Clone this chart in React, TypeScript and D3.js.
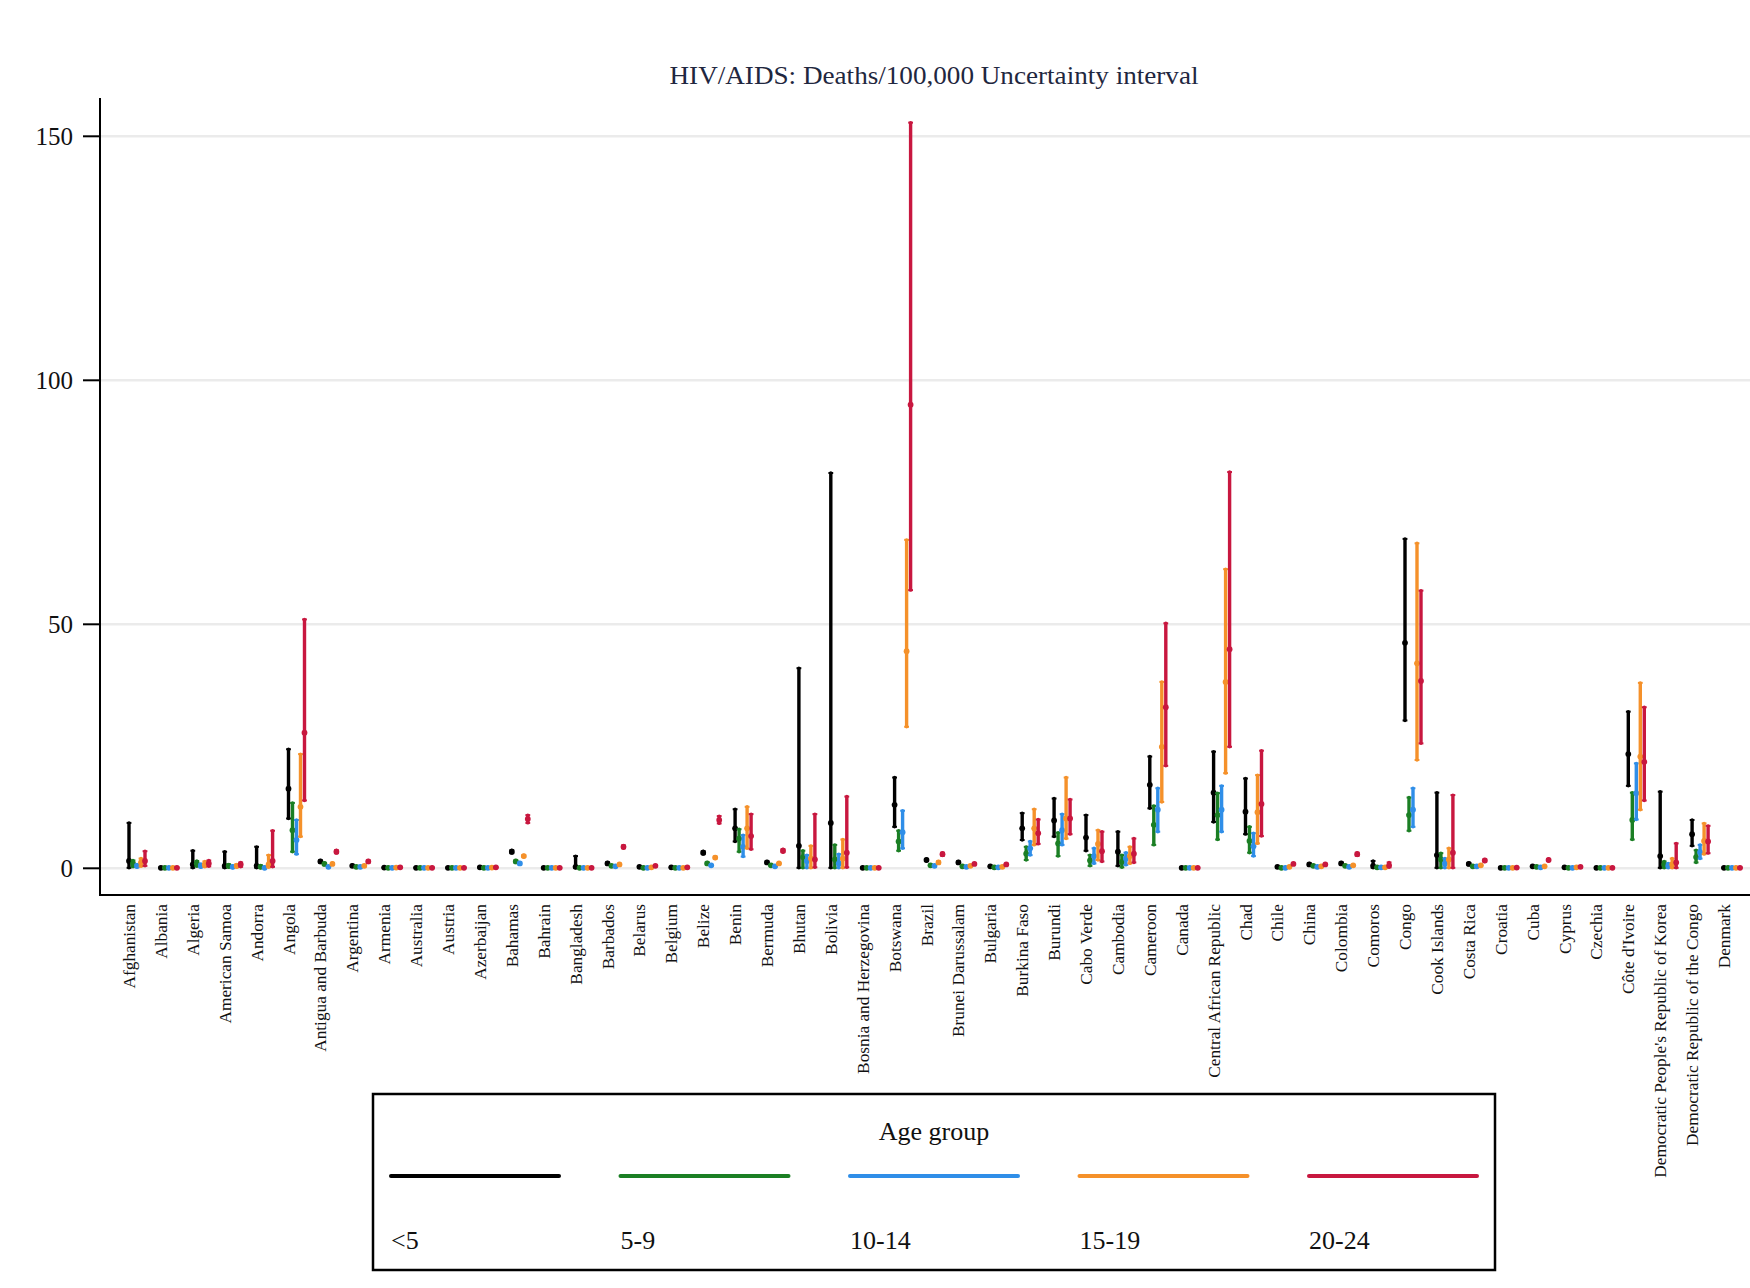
import React from "react";
import * as d3 from "d3";

const countries = [
  "Afghanistan", "Albania", "Algeria", "American Samoa", "Andorra", "Angola",
  "Antigua and Barbuda", "Argentina", "Armenia", "Australia", "Austria", "Azerbaijan",
  "Bahamas", "Bahrain", "Bangladesh", "Barbados", "Belarus", "Belgium", "Belize",
  "Benin", "Bermuda", "Bhutan", "Bolivia", "Bosnia and Herzegovina", "Botswana",
  "Brazil", "Brunei Darussalam", "Bulgaria", "Burkina Faso", "Burundi", "Cabo Verde",
  "Cambodia", "Cameroon", "Canada", "Central African Republic", "Chad", "Chile",
  "China", "Colombia", "Comoros", "Congo", "Cook Islands", "Costa Rica", "Croatia",
  "Cuba", "Cyprus", "Czechia", "Côte d'Ivoire",
  "Democratic People's Republic of Korea", "Democratic Republic of the Congo", "Denmark",
];

const ageGroups = ["<5", "5-9", "10-14", "15-19", "20-24"];
const groupColors = ["#000000", "#1b7f24", "#2f8ee8", "#f5912a", "#c8173f"];

// <5
const u5Est = [1.5, 0.1, 0.8, 0.5, 0.5, 16.3, 1.4, 0.5, 0.15, 0.1, 0.1, 0.2, 3.4, 0.1, 0.3, 1.0, 0.3, 0.2, 3.2, 8.2, 1.2, 4.6, 9.3, 0.1, 13.0, 1.7, 1.2, 0.4, 8.2, 9.8, 6.3, 3.4, 17.1, 0.1, 15.5, 11.6, 0.3, 0.8, 1.0, 0.5, 46.2, 2.7, 0.9, 0.1, 0.4, 0.2, 0.1, 23.4, 2.5, 7.0, 0.1];
const u5Lo = [0.1, 0.05, 0.1, 0.1, 0.1, 10.2, 1.2, 0.4, 0.1, 0.05, 0.05, 0.1, 3.1, 0.05, 0.1, 0.8, 0.2, 0.1, 2.9, 5.5, 1.0, 0.1, 0.1, 0.05, 8.5, 1.5, 1.0, 0.3, 5.8, 6.5, 3.6, 0.5, 12.3, 0.05, 9.5, 7.0, 0.2, 0.6, 0.8, 0.1, 30.3, 0.1, 0.7, 0.05, 0.3, 0.1, 0.05, 16.9, 0.1, 4.6, 0.05];
const u5Hi = [9.3, 0.2, 3.6, 3.4, 4.4, 24.4, 1.6, 0.7, 0.2, 0.2, 0.2, 0.3, 3.7, 0.2, 2.5, 1.2, 0.4, 0.3, 3.5, 12.1, 1.4, 41.0, 81.0, 0.2, 18.6, 1.9, 1.4, 0.5, 11.3, 14.3, 10.9, 7.5, 22.9, 0.2, 23.9, 18.4, 0.4, 1.0, 1.2, 1.5, 67.5, 15.5, 1.1, 0.2, 0.5, 0.3, 0.2, 32.1, 15.7, 9.9, 0.2];

// 5-9
const a5Est = [1.0, 0.1, 1.0, 0.5, 0.3, 7.8, 0.9, 0.3, 0.1, 0.1, 0.1, 0.1, 1.4, 0.1, 0.1, 0.5, 0.1, 0.1, 1.0, 6.1, 0.6, 2.3, 1.8, 0.1, 5.5, 0.6, 0.4, 0.2, 3.0, 5.1, 1.6, 1.3, 8.9, 0.1, 10.9, 5.6, 0.1, 0.5, 0.5, 0.2, 10.9, 1.8, 0.4, 0.1, 0.3, 0.1, 0.1, 9.9, 0.8, 2.3, 0.1];
const a5Lo = [0.3, 0.05, 0.4, 0.2, 0.1, 3.4, 0.7, 0.2, 0.05, 0.05, 0.05, 0.05, 1.2, 0.05, 0.05, 0.4, 0.05, 0.05, 0.8, 3.4, 0.5, 0.1, 0.1, 0.05, 3.6, 0.5, 0.3, 0.1, 1.7, 2.5, 0.5, 0.2, 4.8, 0.05, 5.9, 3.2, 0.05, 0.4, 0.4, 0.1, 7.7, 0.1, 0.3, 0.05, 0.2, 0.05, 0.05, 5.9, 0.1, 1.2, 0.05];
const a5Hi = [1.6, 0.2, 1.5, 0.8, 0.6, 13.4, 1.1, 0.4, 0.2, 0.2, 0.2, 0.2, 1.6, 0.2, 0.2, 0.6, 0.2, 0.2, 1.2, 8.0, 0.7, 3.6, 4.8, 0.2, 7.7, 0.7, 0.5, 0.3, 4.4, 7.3, 2.7, 2.7, 12.8, 0.2, 15.4, 8.5, 0.2, 0.6, 0.6, 0.3, 14.5, 3.1, 0.5, 0.2, 0.4, 0.2, 0.2, 15.5, 1.4, 3.7, 0.2];

// 10-14
const a10Est = [0.5, 0.1, 0.5, 0.3, 0.1, 5.8, 0.3, 0.3, 0.1, 0.1, 0.1, 0.1, 1.0, 0.1, 0.1, 0.4, 0.1, 0.1, 0.6, 4.4, 0.4, 1.5, 1.0, 0.1, 7.4, 0.5, 0.3, 0.2, 4.1, 7.8, 2.5, 2.0, 12.0, 0.1, 12.0, 4.5, 0.1, 0.3, 0.3, 0.2, 12.0, 1.0, 0.4, 0.1, 0.2, 0.1, 0.1, 15.4, 0.5, 3.3, 0.1];
const a10Lo = [0.2, 0.05, 0.2, 0.1, 0.05, 2.9, 0.2, 0.2, 0.05, 0.05, 0.05, 0.05, 0.8, 0.05, 0.05, 0.3, 0.05, 0.05, 0.5, 2.4, 0.3, 0.1, 0.1, 0.05, 4.1, 0.4, 0.2, 0.1, 2.7, 4.8, 1.0, 0.7, 7.5, 0.05, 7.5, 2.5, 0.05, 0.2, 0.2, 0.1, 8.5, 0.1, 0.3, 0.05, 0.1, 0.05, 0.05, 10.0, 0.1, 2.0, 0.05];
const a10Hi = [0.8, 0.2, 0.9, 0.5, 0.3, 9.9, 0.4, 0.4, 0.2, 0.2, 0.2, 0.2, 1.2, 0.2, 0.2, 0.5, 0.2, 0.2, 0.7, 6.8, 0.5, 2.7, 2.9, 0.2, 11.8, 0.6, 0.4, 0.3, 5.5, 11.1, 4.1, 3.2, 16.4, 0.2, 16.9, 7.2, 0.2, 0.4, 0.4, 0.3, 16.4, 2.0, 0.5, 0.2, 0.3, 0.2, 0.2, 21.5, 1.0, 4.8, 0.2];

// 15-19
const a15Est = [1.2, 0.1, 0.8, 0.5, 0.8, 12.6, 0.9, 0.5, 0.15, 0.1, 0.1, 0.15, 2.5, 0.1, 0.1, 0.8, 0.2, 0.1, 2.2, 8.2, 1.0, 2.0, 2.0, 0.1, 44.5, 1.2, 0.5, 0.3, 8.2, 10.2, 5.0, 2.5, 24.9, 0.1, 38.2, 11.5, 0.3, 0.4, 0.6, 0.2, 42.0, 1.8, 0.6, 0.1, 0.4, 0.2, 0.1, 22.9, 0.8, 5.6, 0.1];
const a15Lo = [0.4, 0.05, 0.3, 0.2, 0.2, 6.5, 0.8, 0.4, 0.1, 0.05, 0.05, 0.1, 2.3, 0.05, 0.05, 0.7, 0.1, 0.05, 2.0, 4.1, 0.9, 0.1, 0.1, 0.05, 29.0, 1.0, 0.4, 0.2, 4.8, 6.1, 1.7, 1.0, 13.6, 0.05, 19.5, 5.1, 0.2, 0.3, 0.5, 0.1, 22.2, 0.1, 0.5, 0.05, 0.3, 0.1, 0.05, 12.0, 0.1, 2.9, 0.05];
const a15Hi = [2.0, 0.2, 1.4, 0.8, 2.7, 23.4, 1.1, 0.6, 0.2, 0.2, 0.2, 0.2, 2.7, 0.2, 0.2, 0.9, 0.3, 0.2, 2.4, 12.6, 1.1, 4.6, 5.9, 0.2, 67.3, 1.4, 0.6, 0.4, 12.1, 18.6, 7.8, 4.4, 38.2, 0.2, 61.3, 19.1, 0.4, 0.5, 0.7, 0.3, 66.6, 4.1, 0.7, 0.2, 0.5, 0.3, 0.2, 38.0, 2.0, 9.2, 0.2];

// 20-24
const a20Est = [1.5, 0.1, 1.0, 0.8, 1.5, 27.8, 3.4, 1.4, 0.2, 0.1, 0.1, 0.2, 10.1, 0.1, 0.1, 4.4, 0.5, 0.2, 9.9, 6.6, 3.6, 1.8, 3.2, 0.1, 95.0, 2.9, 0.9, 0.8, 7.2, 10.2, 3.5, 3.0, 33.0, 0.1, 44.9, 13.2, 0.9, 0.8, 2.9, 0.6, 38.4, 3.2, 1.6, 0.15, 1.7, 0.3, 0.1, 21.8, 1.2, 5.5, 0.1];
const a20Lo = [0.5, 0.05, 0.4, 0.3, 0.3, 13.9, 3.1, 1.2, 0.1, 0.05, 0.05, 0.1, 9.3, 0.05, 0.05, 4.1, 0.4, 0.1, 9.2, 3.9, 3.3, 0.2, 0.2, 0.05, 57.0, 2.6, 0.8, 0.7, 5.0, 7.0, 1.4, 1.2, 21.0, 0.05, 24.9, 6.6, 0.8, 0.7, 2.6, 0.2, 25.6, 0.1, 1.4, 0.1, 1.5, 0.2, 0.05, 13.9, 0.1, 3.1, 0.05];
const a20Hi = [3.5, 0.2, 1.6, 1.2, 7.7, 51.0, 3.7, 1.6, 0.3, 0.2, 0.2, 0.3, 10.9, 0.2, 0.2, 4.7, 0.6, 0.3, 10.7, 11.1, 3.9, 11.1, 14.7, 0.2, 152.8, 3.2, 1.0, 0.9, 10.0, 14.1, 7.5, 6.1, 50.2, 0.2, 81.2, 24.1, 1.0, 0.9, 3.2, 1.2, 56.9, 15.0, 1.8, 0.2, 1.9, 0.4, 0.2, 33.0, 5.1, 8.7, 0.2];

const yTicks = [0, 50, 100, 150];
const titleText = "HIV/AIDS: Deaths/100,000 Uncertainty interval";
const legendTitle = "Age group";

const seriesEst = [u5Est, a5Est, a10Est, a15Est, a20Est];
const seriesLo = [u5Lo, a5Lo, a10Lo, a15Lo, a20Lo];
const seriesHi = [u5Hi, a5Hi, a10Hi, a15Hi, a20Hi];

export default function App() {
  const W = 1750;
  const H = 1288;
  const axisX = 100;
  const axisY = 895;
  const plotTop = 98;

  const x = d3.scalePoint<string>().domain(countries).range([129, 129 + 31.9 * 50]);
  const off = d3.scalePoint<string>().domain(ageGroups).range([0, 16]);
  const y = d3.scaleLinear().domain([0, 150]).range([868.3, 136.3]);

  const serif = "'Liberation Serif', 'Times New Roman', 'DejaVu Serif', serif";

  const legendX = 373;
  const legendY = 1094;
  const legendW = 1122;
  const legendH = 176;
  const legendItemX = d3.scaleLinear().domain([0, 4]).range([391, 1309]);

  return (
    <div style={{ position: "absolute", left: 0, top: 0 }}>
      <svg width={W} height={H} viewBox={`0 0 ${W} ${H}`} style={{ display: "block", background: "#fff" }}>
        <rect x={0} y={0} width={W} height={H} fill="#ffffff" />
        {yTicks.map((t) => (
          <line key={"g" + t} x1={axisX} x2={W} y1={y(t)} y2={y(t)} stroke="#ebebeb" strokeWidth={2.5} />
        ))}
        <text x={934} y={84} textAnchor="middle" fontFamily={serif} fontSize={25} fill="#1f2740" textLength={529} lengthAdjust="spacingAndGlyphs">
          {titleText}
        </text>
        {countries.map((c, i) => (
          <g key={c}>
            {ageGroups.map((g, s) => {
              const cx = (x(c) as number) + (off(g) as number);
              const col = groupColors[s];
              const lo = seriesLo[s][i];
              const hi = seriesHi[s][i];
              const est = seriesEst[s][i];
              return (
                <g key={g}>
                  <line x1={cx} x2={cx} y1={y(lo)} y2={y(hi)} stroke={col} strokeWidth={3.4} strokeLinecap="round" />
                  <line x1={cx - 2.4} x2={cx + 2.4} y1={y(hi)} y2={y(hi)} stroke={col} strokeWidth={2} />
                  <line x1={cx - 2.4} x2={cx + 2.4} y1={y(lo)} y2={y(lo)} stroke={col} strokeWidth={2} />
                  <circle cx={cx} cy={y(est)} r={2.9} fill={col} />
                </g>
              );
            })}
          </g>
        ))}
        <line x1={axisX} x2={axisX} y1={plotTop} y2={axisY + 1} stroke="#000" strokeWidth={2} />
        <line x1={axisX - 1} x2={W} y1={axisY} y2={axisY} stroke="#000" strokeWidth={2} />
        {yTicks.map((t) => (
          <g key={"t" + t}>
            <line x1={83} x2={axisX} y1={y(t)} y2={y(t)} stroke="#000" strokeWidth={2} />
            <text x={73} y={y(t)} dy="0.35em" textAnchor="end" fontFamily={serif} fontSize={25} fill="#111">
              {t}
            </text>
          </g>
        ))}
        {countries.map((c) => (
          <text
            key={"l" + c}
            transform={`translate(${x(c)},904) rotate(-90)`}
            dy="0.35em"
            textAnchor="end"
            fontFamily={serif}
            fontSize={17.3}
            fill="#111"
          >
            {c}
          </text>
        ))}
        <rect x={legendX} y={legendY} width={legendW} height={legendH} fill="#fff" stroke="#000" strokeWidth={2.5} />
        <text x={934} y={1140} textAnchor="middle" fontFamily={serif} fontSize={26} fill="#111">
          {legendTitle}
        </text>
        {ageGroups.map((g, s) => (
          <g key={"lg" + g}>
            <line x1={legendItemX(s)} x2={legendItemX(s) + 168} y1={1176} y2={1176} stroke={groupColors[s]} strokeWidth={4} strokeLinecap="round" />
            <text x={legendItemX(s)} y={1249} fontFamily={serif} fontSize={26} fill="#111">
              {g}
            </text>
          </g>
        ))}
      </svg>
    </div>
  );
}
